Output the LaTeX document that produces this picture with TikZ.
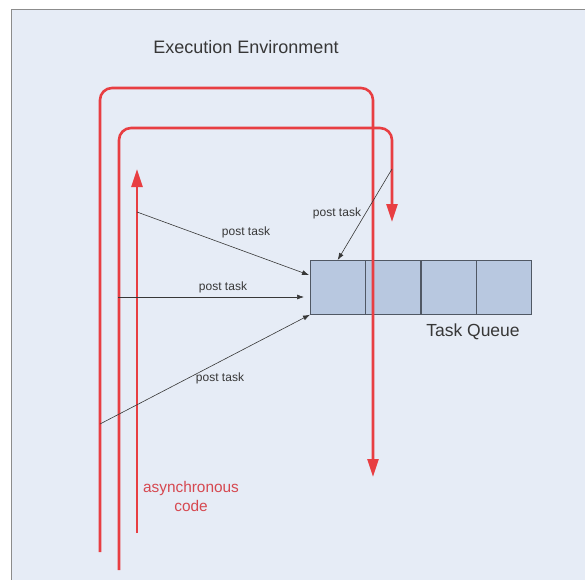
\documentclass[tikz,border=0pt]{standalone}
\usepackage{fontspec}
\setmainfont{Liberation Sans}
\usetikzlibrary{arrows.meta}

\definecolor{panel}{RGB}{230,236,246}
\definecolor{frame}{RGB}{140,140,140}
\definecolor{flow}{RGB}{232,62,66}
\definecolor{flowtext}{RGB}{214,72,80}
\definecolor{ink}{RGB}{55,55,55}
\definecolor{cellfill}{RGB}{184,200,224}
\definecolor{celledge}{RGB}{80,88,100}

\tikzset{
  flowline/.style={draw=flow, line width=2.6pt, rounded corners=12pt},
  flowtip/.style={-{Triangle[width=11pt,length=18pt]}},
  posting/.style={draw=ink, line width=0.6pt, -{Latex[length=7pt,width=5pt]}},
  cell/.style={draw=celledge, fill=cellfill, line width=0.7pt,
    minimum width=54.75pt, minimum height=54pt, inner sep=0pt, anchor=north west},
  lbl/.style={text=ink, font=\fontsize{12}{14}\selectfont, inner sep=1pt},
}

\begin{document}
\begin{tikzpicture}[x=1pt, y=-1pt]
  \useasboundingbox (0,0) rectangle (585,579);
  \fill[white] (0,0) rectangle (585,579);
  % panel of the execution environment
  \filldraw[fill=panel, draw=frame, line width=1.6pt] (11.5,9.5) rectangle (600,600);

  \node[text=ink, font=\fontsize{18}{20}\selectfont] (title) at (246,47) {Execution Environment};

  % task queue cells
  \node[cell] (q1) at (310,260) {};
  \node[cell] (q2) at (q1.north east) {};
  \node[cell] (q3) at (q2.north east) {};
  \node[cell] (q4) at (q3.north east) {};
  \node[text=ink, font=\fontsize{17.5}{20}\selectfont] (tq) at (473,332) {Task Queue};

  % execution flows
  \coordinate (o1) at (100,552);
  \coordinate (o2) at (100,88);
  \coordinate (o3) at (373,88);
  \coordinate (o4) at (373,477);
  \draw[flowline, flowtip] (o1) -- (o2) -- (o3) -- (o4);

  \coordinate (i1) at (119,570);
  \coordinate (i2) at (119,128);
  \coordinate (i3) at (392,128);
  \coordinate (i4) at (392,222);
  \draw[flowline, flowtip] (i1) -- (i2) -- (i3) -- (i4);

  \coordinate (a1) at (137,533);
  \coordinate (a2) at (137,169);
  \draw[flowline, flowtip] (a1) -- (a2);

  \node[text=flowtext, font=\fontsize{15.4}{19}\selectfont, align=center] (async) at (191,496)
    {asynchronous\\code};

  % task postings
  \coordinate (p1) at (137,212);
  \coordinate (p1e) at (309,275);
  \coordinate (p2) at (118,297);
  \coordinate (p2e) at (304,297);
  \coordinate (p3) at (100,424);
  \coordinate (p4) at (392,169);
  \draw[posting] (p1) -- (p1e);
  \draw[posting] (p2) -- (p2e);
  \draw[posting] (p3) -- (q1.south west);
  \draw[posting] (p4) -- (q1.north);

  \node[lbl] (l1) at (246,232) {post task};
  \node[lbl] (l2) at (223,287) {post task};
  \node[lbl] (l3) at (220,378) {post task};
  \node[lbl] (l4) at (337,213) {post task};
\end{tikzpicture}
\end{document}
